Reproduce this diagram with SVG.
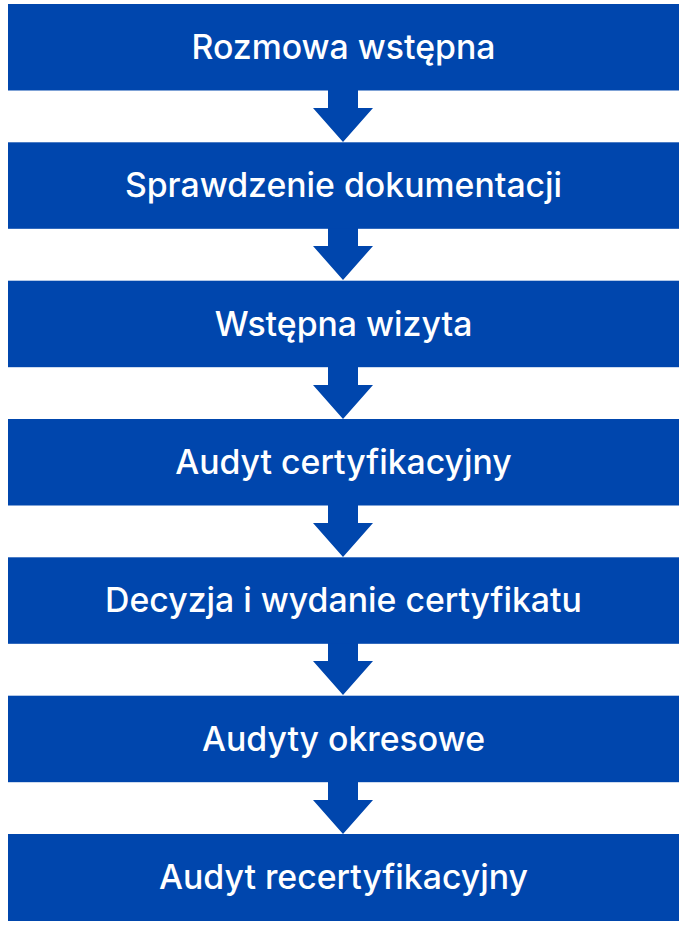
<svg xmlns="http://www.w3.org/2000/svg" width="683" height="931" viewBox="0 0 683 931">
<style>
.box{fill:#0046AD}
.lbl{fill:#ffffff;font-family:Inter,"Liberation Sans",sans-serif;font-weight:500;font-size:33.8px;text-anchor:middle}
.arr{fill:#0046AD}
</style>
<rect width="683" height="931" fill="#ffffff"/>
<g id="connectors">
<polygon class="arr" points="328,90 358,90 358,108 373,108 343,142 313,108 328,108"/>
<polygon class="arr" points="328,228 358,228 358,246 373,246 343,280 313,246 328,246"/>
<polygon class="arr" points="328,367 358,367 358,385 373,385 343,419 313,385 328,385"/>
<polygon class="arr" points="328,505 358,505 358,523 373,523 343,557 313,523 328,523"/>
<polygon class="arr" points="328,643 358,643 358,661 373,661 343,695 313,661 328,661"/>
<polygon class="arr" points="328,782 358,782 358,800 373,800 343,834 313,800 328,800"/>
</g>
<g id="n1"><rect class="box" x="8" y="4" width="671" height="86.5"/><text class="lbl" x="343.5" y="59">Rozmowa wstępna</text></g>
<g id="n2"><rect class="box" x="8" y="142.3" width="671" height="86.5"/><text class="lbl" x="343.5" y="197.3">Sprawdzenie dokumentacji</text></g>
<g id="n3"><rect class="box" x="8" y="280.7" width="671" height="86.5"/><text class="lbl" x="343.5" y="335.7">Wstępna wizyta</text></g>
<g id="n4"><rect class="box" x="8" y="419" width="671" height="86.5"/><text class="lbl" x="343.5" y="474">Audyt certyfikacyjny</text></g>
<g id="n5"><rect class="box" x="8" y="557.3" width="671" height="86.5"/><text class="lbl" x="343.5" y="612.3">Decyzja i wydanie certyfikatu</text></g>
<g id="n6"><rect class="box" x="8" y="695.7" width="671" height="86.5"/><text class="lbl" x="343.5" y="750.7">Audyty okresowe</text></g>
<g id="n7"><rect class="box" x="8" y="834" width="671" height="87"/><text class="lbl" x="343.5" y="889">Audyt recertyfikacyjny</text></g>
</svg>
